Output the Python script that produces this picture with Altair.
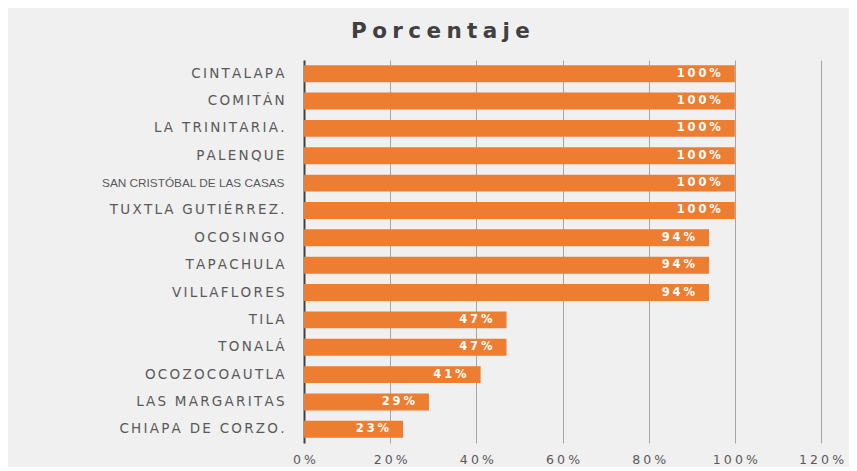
import altair as alt
import pandas as pd

municipios = [
    "CINTALAPA", "COMITÁN", "LA TRINITARIA.", "PALENQUE",
    "SAN CRISTÓBAL DE LAS  CASAS", "TUXTLA GUTIÉRREZ.", "OCOSINGO",
    "TAPACHULA", "VILLAFLORES", "TILA", "TONALÁ", "OCOZOCOAUTLA",
    "LAS MARGARITAS", "CHIAPA DE CORZO.",
]
porcentajes = [1.00, 1.00, 1.00, 1.00, 1.00, 1.00, 0.94, 0.94, 0.94,
               0.47, 0.47, 0.41, 0.29, 0.23]
tick_values = [0, 0.2, 0.4, 0.6, 0.8, 1.0, 1.2]

SP = "\u2005"   # four-per-em space used as letter spacing
SPS = "\u2006"  # six-per-em space (narrower letter spacing)


def spaced(s, sep=SP):
    return sep.join(list(s))


df = pd.DataFrame({"municipio": municipios, "pct": porcentajes})
df["etiqueta"] = [spaced(f"{round(v*100)}%") for v in porcentajes]

FONT = "DejaVu Sans"
ORANGE = "#ED7D31"
LONG = "SAN CRISTÓBAL DE LAS  CASAS"

y_label_expr = (f"datum.label == '{LONG}' ? datum.label : "
                f"join(split(datum.label, ''), '{SPS}')")
x_label_expr = f"join(split(datum.label, ''), '{SP}')"

y_enc = alt.Y("municipio:N", sort=municipios, title=None,
              scale=alt.Scale(paddingInner=0.38, paddingOuter=0.19),
              axis=alt.Axis(ticks=False, labelPadding=20,
                            labelFontSize=alt.ExprRef(
                                f"datum.label == '{LONG}' ? 11.8 : 13.5"),
                            labelFont=alt.ExprRef(
                                f"datum.label == '{LONG}' ? "
                                "'Liberation Sans' : "
                                f"'{FONT}'"),
                            labelColor="#595959",
                            labelExpr=y_label_expr,
                            domainColor="#404040", domainWidth=2,
                            labelLimit=300))
x_enc = alt.X("pct:Q", title=None,
              scale=alt.Scale(domain=[0, 1.2], nice=False),
              axis=alt.Axis(values=tick_values, format=".0%", grid=True,
                            gridColor="#a6a6a6", gridWidth=1, domain=False,
                            ticks=False, labelPadding=10, labelFontSize=12.5,
                            labelFlush=False, labelExpr=x_label_expr,
                            labelColor="#595959", labelFont=FONT))

bars = alt.Chart(df).mark_bar(color=ORANGE).encode(x=x_enc, y=y_enc)
text = alt.Chart(df).mark_text(align="right", dx=-14, color="white",
                               fontWeight="bold", fontSize=11.5,
                               font=FONT).encode(
    x="pct:Q", y=alt.Y("municipio:N", sort=municipios), text="etiqueta:N")

chart = (bars + text).properties(
    width=517, height=383,
    autosize=alt.AutoSizeParams(type="none"),
    padding={"left": 296, "top": 52, "right": 28, "bottom": 24},
    background="#f0f0f0",
    title=alt.TitleParams(spaced("Porcentaje"), fontSize=21.5,
                          fontWeight="bold", color="#404040", font=FONT,
                          dx=-122, offset=18),
).configure_view(stroke=None)

chart.save("out.html", embed_options={"renderer": "svg", "actions": False})
